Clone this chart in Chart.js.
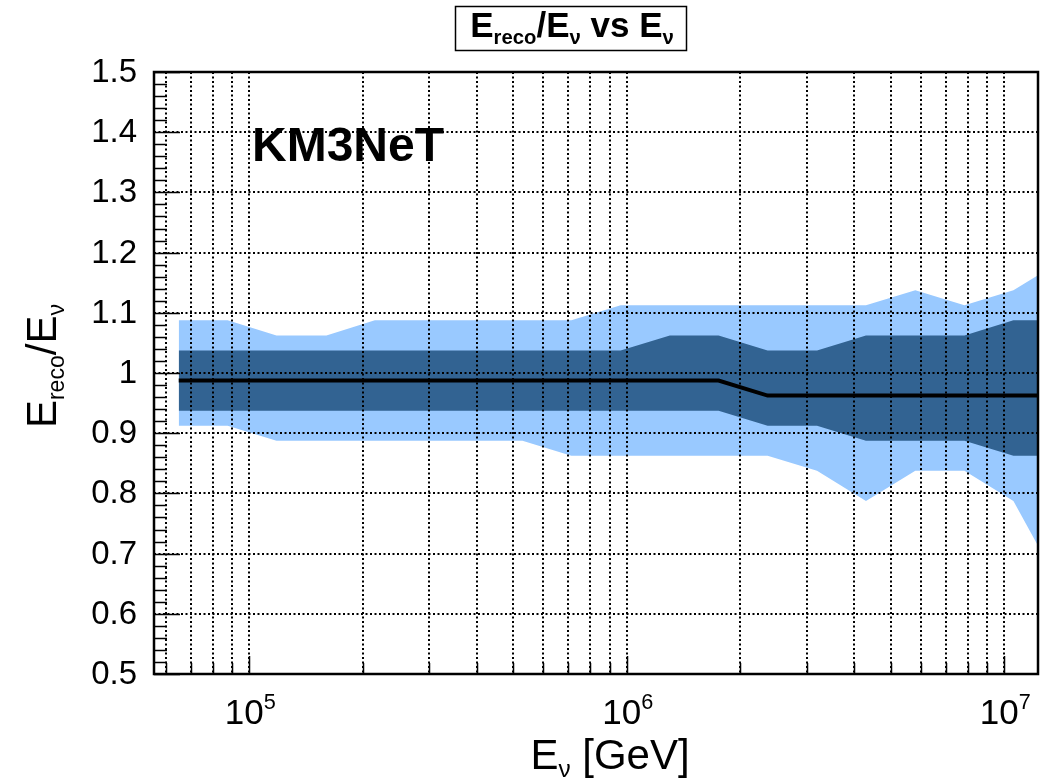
<!DOCTYPE html>
<html>
<head>
<meta charset="utf-8">
<script src="https://cdn.jsdelivr.net/npm/chart.js@4.4.0/dist/chart.umd.min.js"></script>
<style>
  html, body { margin: 0; padding: 0; background: #fff; }
  #wrap { position: absolute; left: 0; top: 0; width: 1045px; height: 780px; }
</style>
</head>
<body>
<div id="wrap"><canvas id="chart"></canvas></div>
<script>
// ── data ──
// bin centres in GeV; the last one lies just past the right edge of the axis
const energies = [6.5e4, 8.76e4, 1.18e5, 1.6e5, 2.15e5, 2.9e5, 3.92e5, 5.29e5, 7.13e5, 9.63e5,
                  1.3e6, 1.75e6, 2.36e6, 3.19e6, 4.3e6, 5.81e6, 7.84e6, 1.057e7, 1.43e7];
const median  = [0.9875, 0.9875, 0.9875, 0.9875, 0.9875, 0.9875, 0.9875, 0.9875, 0.9875, 0.9875,
                 0.9875, 0.9875, 0.9625, 0.9625, 0.9625, 0.9625, 0.9625, 0.9625, 0.9625];
const innerHi = [1.0375, 1.0375, 1.0375, 1.0375, 1.0375, 1.0375, 1.0375, 1.0375, 1.0375, 1.0375,
                 1.0625, 1.0625, 1.0375, 1.0375, 1.0625, 1.0625, 1.0625, 1.0875, 1.0875];
const innerLo = [0.9375, 0.9375, 0.9375, 0.9375, 0.9375, 0.9375, 0.9375, 0.9375, 0.9375, 0.9375,
                 0.9375, 0.9375, 0.9125, 0.9125, 0.8875, 0.8875, 0.8875, 0.8625, 0.8625];
const outerHi = [1.0875, 1.0875, 1.0625, 1.0625, 1.0875, 1.0875, 1.0875, 1.0875, 1.0875, 1.1125,
                 1.1125, 1.1125, 1.1125, 1.1125, 1.1125, 1.1375, 1.1125, 1.1375, 1.1875];
const outerLo = [0.9125, 0.9125, 0.8875, 0.8875, 0.8875, 0.8875, 0.8875, 0.8875, 0.8625, 0.8625,
                 0.8625, 0.8625, 0.8625, 0.8375, 0.7875, 0.8375, 0.8375, 0.7875, 0.6375];

const X_MIN = 5.59e4, X_MAX = 1.228e7;
const Y_MIN = 0.5, Y_MAX = 1.5;
const yLabels = ['0.5', '0.6', '0.7', '0.8', '0.9', '1', '1.1', '1.2', '1.3', '1.4', '1.5'];
const xLabelExp = [5, 6, 7];

const FONT = '"Liberation Sans", Arial, Helvetica, sans-serif';
const LIGHT = '#99c9ff';
const DARK = '#326392';

// log axis: a tick at every 1..9 x 10^n inside the range
const xTicks = [];
for (let e = 4; e <= 7; e++) {
  for (let m = 1; m <= 9; m++) {
    const v = m * Math.pow(10, e);
    if (v >= X_MIN && v <= X_MAX) xTicks.push(v);
  }
}

const pts = arr => arr.map((v, i) => ({ x: energies[i], y: v }));

// tiny rich-text helper: segments with optional sub/sup, scaled by `small`
function segFont(s, size, weight, small) {
  const fs = (s.sub || s.sup) ? size * small : size;
  return `${weight} ${fs}px ${FONT}`;
}
function drawRich(ctx, segs, x, y, size, weight, align, small, subDrop, supRise) {
  let w = 0;
  for (const s of segs) { ctx.font = segFont(s, size, weight, small); w += ctx.measureText(s.t).width; }
  let cx = align === 'center' ? x - w / 2 : align === 'right' ? x - w : x;
  ctx.textAlign = 'left';
  ctx.textBaseline = 'alphabetic';
  for (const s of segs) {
    ctx.font = segFont(s, size, weight, small);
    const dy = s.sub ? size * subDrop : s.sup ? -size * supRise : 0;
    ctx.fillText(s.t, cx, y + dy);
    cx += ctx.measureText(s.t).width;
  }
}

// frame, inner ticks, labels and titles in ROOT style
const rootDecor = {
  id: 'rootDecor',
  afterDraw(chart) {
    const { ctx, chartArea: a, scales: { x, y } } = chart;
    ctx.save();
    ctx.fillStyle = '#000';
    ctx.strokeStyle = '#000';

    // ticks pointing inward
    ctx.lineWidth = 1.5;
    ctx.beginPath();
    for (let i = 0; i <= 50; i++) {
      const py = Math.round(y.getPixelForValue(Y_MIN + i * 0.02)) + 0.5;
      const len = i % 5 === 0 ? 26 : 13;
      ctx.moveTo(a.left, py); ctx.lineTo(a.left + len, py);
    }
    for (const v of xTicks) {
      const px = Math.round(x.getPixelForValue(v)) + 0.5;
      const major = Math.abs(Math.log10(v) - Math.round(Math.log10(v))) < 1e-9;
      ctx.moveTo(px, a.bottom); ctx.lineTo(px, a.bottom - (major ? 18 : 11));
    }
    ctx.stroke();

    // frame
    ctx.lineWidth = 2.5;
    ctx.strokeRect(a.left, a.top, a.right - a.left, a.bottom - a.top);

    // y tick labels
    ctx.font = `33px ${FONT}`;
    ctx.textAlign = 'right';
    ctx.textBaseline = 'middle';
    yLabels.forEach(l => ctx.fillText(l, a.left - 17, y.getPixelForValue(parseFloat(l)) + 1));

    // x tick labels 10^n
    for (const e of xLabelExp) {
      const px = x.getPixelForValue(Math.pow(10, e));
      drawRich(ctx, [{ t: '10' }, { t: String(e), sup: true }], px + 1, 724, 35, 'normal', 'center', 0.62, 0, 0.42);
    }

    // axis titles
    drawRich(ctx, [{ t: 'E' }, { t: 'ν', sub: true }, { t: ' [GeV]' }], 610, 769, 42, 'normal', 'center', 0.58, 0.2, 0);
    ctx.save();
    ctx.translate(56, 366);
    ctx.rotate(-Math.PI / 2);
    drawRich(ctx, [{ t: 'E' }, { t: 'reco', sub: true }, { t: '/E' }, { t: 'ν', sub: true }], 0, 0, 42, 'normal', 'center', 0.55, 0.2, 0);
    ctx.restore();

    // title box
    ctx.fillStyle = '#fff';
    ctx.fillRect(455, 6, 231, 44);
    ctx.lineWidth = 1.5;
    ctx.strokeRect(455.5, 6.5, 231, 44);
    ctx.fillStyle = '#000';
    drawRich(ctx, [{ t: 'E' }, { t: 'reco', sub: true }, { t: '/E' }, { t: 'ν', sub: true },
                   { t: ' vs E' }, { t: 'ν', sub: true }], 572, 37, 35, 'bold', 'center', 0.58, 0.2, 0);

    // experiment label
    ctx.font = `bold 48px ${FONT}`;
    ctx.textAlign = 'left';
    ctx.textBaseline = 'alphabetic';
    ctx.fillText('KM3NeT', 252, 161);
    ctx.restore();
  }
};

const gridOpts = { color: '#000', lineWidth: 2, drawTicks: false, z: 1 };
// in Chart.js v4 the grid-line dash lives in border.dash
const borderOpts = { display: false, dash: [2, 2.5] };

new Chart(document.getElementById('chart'), {
  type: 'line',
  data: {
    datasets: [
      { label: 'median', data: pts(median), borderColor: '#000', borderWidth: 4, fill: false, order: 0 },
      { label: 'inner hi', data: pts(innerHi), borderWidth: 0, borderColor: DARK, backgroundColor: DARK, fill: 2, order: 1 },
      { label: 'inner lo', data: pts(innerLo), borderWidth: 0, borderColor: DARK, fill: false, order: 1 },
      { label: 'outer hi', data: pts(outerHi), borderWidth: 0, borderColor: LIGHT, backgroundColor: LIGHT, fill: 4, order: 2 },
      { label: 'outer lo', data: pts(outerLo), borderWidth: 0, borderColor: LIGHT, fill: false, order: 2 },
    ]
  },
  options: {
    responsive: true,
    maintainAspectRatio: false,
    animation: false,
    layout: { padding: { left: 154, top: 72, right: 7, bottom: 106 } },
    elements: { point: { radius: 0, hoverRadius: 0 }, line: { tension: 0 } },
    plugins: { legend: { display: false }, tooltip: { enabled: false }, title: { display: false } },
    scales: {
      x: {
        type: 'logarithmic', min: X_MIN, max: X_MAX,
        afterBuildTicks: s => { s.ticks = xTicks.map(v => ({ value: v })); },
        ticks: { display: false },
        grid: gridOpts, border: borderOpts
      },
      y: {
        type: 'linear', min: Y_MIN, max: Y_MAX,
        ticks: { display: false, stepSize: 0.1 },
        grid: gridOpts, border: borderOpts
      }
    }
  },
  plugins: [rootDecor]
});
</script>
</body>
</html>
